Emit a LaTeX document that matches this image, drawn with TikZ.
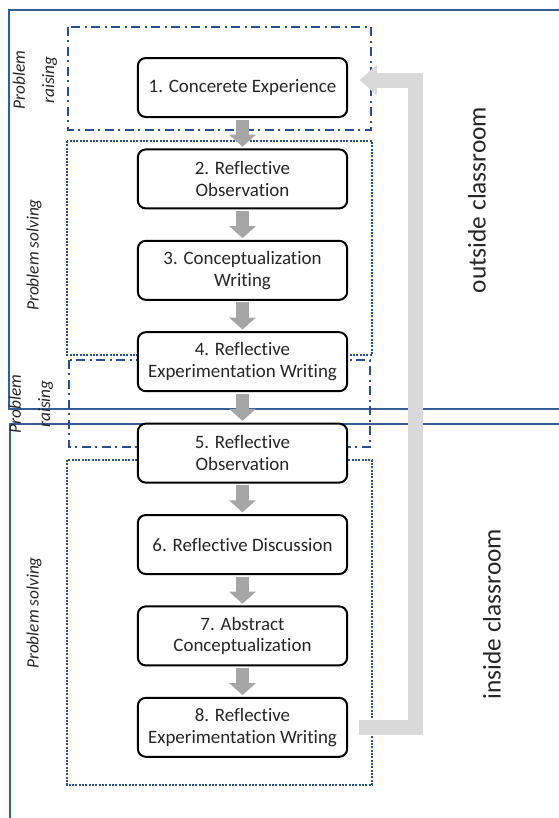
\documentclass[tikz,border=0pt]{standalone}
\usepackage{fontspec}
\setmainfont{Carlito}[Ligatures={NoCommon,NoRare,NoContextual}]
\usetikzlibrary{arrows.meta,positioning}
\definecolor{frameblue}{RGB}{56,93,150}
\definecolor{boxblue}{RGB}{40,78,150}
\definecolor{flowgray}{RGB}{166,166,166}
\definecolor{loopgray}{RGB}{217,217,217}

\begin{document}
\begin{tikzpicture}[
  x=0.75pt, y=-0.75pt,
  node distance=24.3pt,
  stepbox/.style={draw=black, line width=1.5pt, rounded corners=6pt, fill=white,
    minimum width=157pt, minimum height=44.25pt, outer sep=0pt, inner sep=2pt,
    align=center, font=\fontsize{14.2}{16.3}\selectfont, text=black!85},
  flow/.style={-{Triangle[length=9pt,width=19.5pt]},
    draw=flowgray, line width=9.75pt, shorten <=2pt, shorten >=2pt},
  back/.style={-{Triangle[length=12.75pt,width=22.5pt]},
    draw=loopgray, line width=11.25pt, shorten <=9pt, shorten >=9.5pt},
  frame/.style={draw=frameblue, line width=1.5pt},
  dashdot/.style={draw=boxblue, line width=1.5pt,
    dash pattern=on 6.5pt off 3.5pt on 1.5pt off 3.5pt},
  dotbox/.style={draw=boxblue, line width=1.8pt, dash pattern=on 1.4pt off 1.1pt},
  phase/.style={rotate=90, align=center, text=black!85,
    font=\fontsize{13}{15}\selectfont\itshape},
  place/.style={rotate=90, text=black!85, font=\fontsize{19}{22}\selectfont}
]
\useasboundingbox (0,0) rectangle (559,818);
% outside / inside classroom frames
\draw[frame] (559,409) -- (9,409) -- (9,10) -- (559,10);
\draw[frame] (559,424) -- (10,424) -- (10,818);
% phase boxes
\draw[dashdot] (68,27) rectangle (371,130);
\draw[dotbox] (67,141) rectangle (372,355);
\draw[dashdot] (69,360) rectangle (370,447);
\draw[dotbox] (67,460) rectangle (372,785);
% steps
\node[stepbox] (concrete) at (242.5,87.5) {1. Concerete Experience};
\node[stepbox, below=of concrete] (observe) {2. Reflective\\Observation};
\node[stepbox, below=of observe] (concwrite) {3. Conceptualization\\Writing};
\node[stepbox, below=of concwrite] (experwrite) {4. Reflective\\Experimentation Writing};
\node[stepbox, below=of experwrite] (observetwo) {5. Reflective\\Observation};
\node[stepbox, below=of observetwo] (discuss) {6. Reflective Discussion};
\node[stepbox, below=of discuss] (abstract) {7. Abstract\\Conceptualization};
\node[stepbox, below=of abstract] (experwritetwo) {8. Reflective\\Experimentation Writing};
\draw[flow] (concrete) -- (observe);
\draw[flow] (observe) -- (concwrite);
\draw[flow] (concwrite) -- (experwrite);
\draw[flow] (experwrite) -- (observetwo);
\draw[flow] (observetwo) -- (discuss);
\draw[flow] (discuss) -- (abstract);
\draw[flow] (abstract) -- (experwritetwo);
% loop back to the start
\coordinate (turn) at (415.5,0);
\coordinate (entry) at ([yshift=5.6pt]concrete.east);
\draw[back] (experwritetwo.east) -- (experwritetwo.east -| turn) -- (entry -| turn) -- (entry);
% labels
\node[phase] (raiseone) at (35,80) {Problem\\[7pt]raising};
\node[phase] (solveone) at (34,255) {Problem solving};
\node[phase] (raisetwo) at (31,404) {Problem\\[7pt]raising};
\node[phase] (solvetwo) at (34,613) {Problem solving};
\node[place] (outside) at (477,200) {outside classroom};
\node[place] (inside) at (492,614) {inside classroom};
\end{tikzpicture}
\end{document}
